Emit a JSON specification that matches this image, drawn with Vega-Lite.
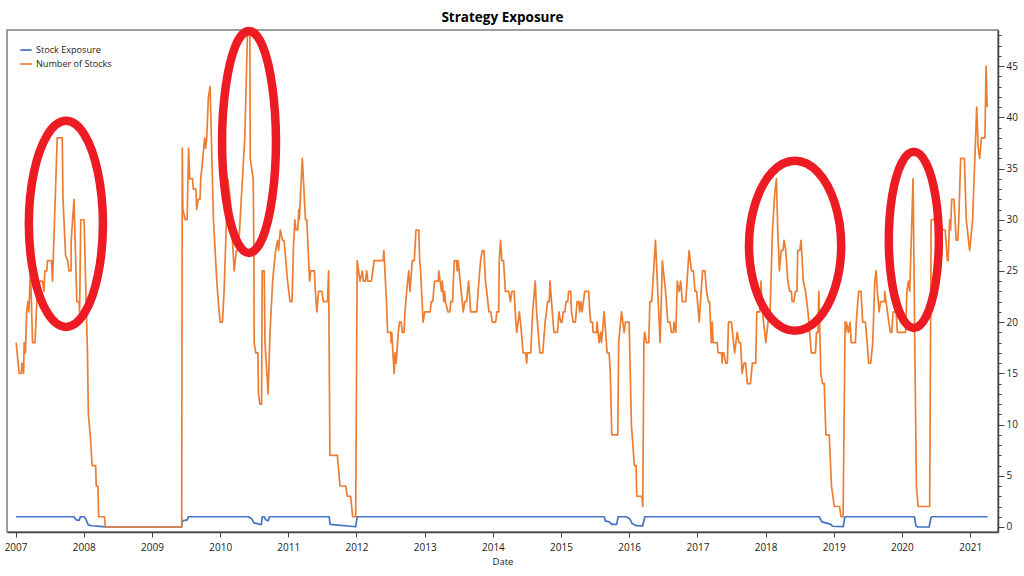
{
  "$schema": "https://vega.github.io/schema/vega-lite/v6.json",
  "width": 991,
  "height": 502,
  "autosize": "none",
  "padding": {"left": 7, "top": 30, "right": 26, "bottom": 44},
  "background": "white",
  "title": {"text": "Strategy Exposure", "fontSize": 13.5, "fontWeight": "bold", "font": "Open Sans", "color": "black", "offset": -11},
  "config": {
    "view": {"stroke": "#808080", "strokeWidth": 1.5},
    "font": "Open Sans"
  },
  "datasets": {
    "circles": [
      {"circle": 1, "step": 0, "date": "2008-04-13", "value": 29.6},
      {"circle": 1, "step": 1, "date": "2008-03-17", "value": 34.63},
      {"circle": 1, "step": 2, "date": "2008-01-05", "value": 38.31},
      {"circle": 1, "step": 3, "date": "2007-09-28", "value": 39.66},
      {"circle": 1, "step": 4, "date": "2007-06-21", "value": 38.31},
      {"circle": 1, "step": 5, "date": "2007-04-09", "value": 34.63},
      {"circle": 1, "step": 6, "date": "2007-03-13", "value": 29.6},
      {"circle": 1, "step": 7, "date": "2007-04-09", "value": 24.57},
      {"circle": 1, "step": 8, "date": "2007-06-21", "value": 20.89},
      {"circle": 1, "step": 9, "date": "2007-09-28", "value": 19.54},
      {"circle": 1, "step": 10, "date": "2008-01-05", "value": 20.89},
      {"circle": 1, "step": 11, "date": "2008-03-17", "value": 24.57},
      {"circle": 2, "step": 0, "date": "2010-10-27", "value": 37.6},
      {"circle": 2, "step": 1, "date": "2010-10-07", "value": 43.02},
      {"circle": 2, "step": 2, "date": "2010-08-16", "value": 46.99},
      {"circle": 2, "step": 3, "date": "2010-06-04", "value": 48.44},
      {"circle": 2, "step": 4, "date": "2010-03-24", "value": 46.99},
      {"circle": 2, "step": 5, "date": "2010-01-31", "value": 43.02},
      {"circle": 2, "step": 6, "date": "2010-01-11", "value": 37.6},
      {"circle": 2, "step": 7, "date": "2010-01-31", "value": 32.18},
      {"circle": 2, "step": 8, "date": "2010-03-24", "value": 28.21},
      {"circle": 2, "step": 9, "date": "2010-06-04", "value": 26.76},
      {"circle": 2, "step": 10, "date": "2010-08-16", "value": 28.21},
      {"circle": 2, "step": 11, "date": "2010-10-07", "value": 32.18},
      {"circle": 3, "step": 0, "date": "2019-02-10", "value": 27.46},
      {"circle": 3, "step": 1, "date": "2019-01-07", "value": 31.61},
      {"circle": 3, "step": 2, "date": "2018-10-08", "value": 34.65},
      {"circle": 3, "step": 3, "date": "2018-06-07", "value": 35.76},
      {"circle": 3, "step": 4, "date": "2018-02-05", "value": 34.65},
      {"circle": 3, "step": 5, "date": "2017-11-07", "value": 31.61},
      {"circle": 3, "step": 6, "date": "2017-10-04", "value": 27.46},
      {"circle": 3, "step": 7, "date": "2017-11-07", "value": 23.31},
      {"circle": 3, "step": 8, "date": "2018-02-05", "value": 20.27},
      {"circle": 3, "step": 9, "date": "2018-06-07", "value": 19.16},
      {"circle": 3, "step": 10, "date": "2018-10-08", "value": 20.27},
      {"circle": 3, "step": 11, "date": "2019-01-07", "value": 23.31},
      {"circle": 4, "step": 0, "date": "2020-07-17", "value": 28.03},
      {"circle": 4, "step": 1, "date": "2020-06-29", "value": 32.33},
      {"circle": 4, "step": 2, "date": "2020-05-11", "value": 35.48},
      {"circle": 4, "step": 3, "date": "2020-03-05", "value": 36.63},
      {"circle": 4, "step": 4, "date": "2019-12-29", "value": 35.48},
      {"circle": 4, "step": 5, "date": "2019-11-10", "value": 32.33},
      {"circle": 4, "step": 6, "date": "2019-10-23", "value": 28.03},
      {"circle": 4, "step": 7, "date": "2019-11-10", "value": 23.73},
      {"circle": 4, "step": 8, "date": "2019-12-29", "value": 20.58},
      {"circle": 4, "step": 9, "date": "2020-03-05", "value": 19.43},
      {"circle": 4, "step": 10, "date": "2020-05-11", "value": 20.58},
      {"circle": 4, "step": 11, "date": "2020-06-29", "value": 23.73}
    ],
    "series": [
      {"series": "Stock Exposure", "date": "2007-01-04", "value": 1},
      {"series": "Stock Exposure", "date": "2007-11-10", "value": 1},
      {"series": "Stock Exposure", "date": "2007-11-21", "value": 0.7},
      {"series": "Stock Exposure", "date": "2007-12-08", "value": 0.65},
      {"series": "Stock Exposure", "date": "2007-12-14", "value": 1},
      {"series": "Stock Exposure", "date": "2008-01-03", "value": 1},
      {"series": "Stock Exposure", "date": "2008-01-13", "value": 0.75},
      {"series": "Stock Exposure", "date": "2008-01-25", "value": 0.2},
      {"series": "Stock Exposure", "date": "2008-02-14", "value": 0.12},
      {"series": "Stock Exposure", "date": "2008-03-28", "value": 0.05},
      {"series": "Stock Exposure", "date": "2008-04-26", "value": 0},
      {"series": "Stock Exposure", "date": "2009-06-09", "value": 0},
      {"series": "Stock Exposure", "date": "2009-06-12", "value": 0.6},
      {"series": "Stock Exposure", "date": "2009-07-08", "value": 0.7},
      {"series": "Stock Exposure", "date": "2009-07-16", "value": 1},
      {"series": "Stock Exposure", "date": "2010-06-01", "value": 1},
      {"series": "Stock Exposure", "date": "2010-06-19", "value": 0.8},
      {"series": "Stock Exposure", "date": "2010-07-01", "value": 0.4},
      {"series": "Stock Exposure", "date": "2010-07-14", "value": 0.35},
      {"series": "Stock Exposure", "date": "2010-08-02", "value": 0.25},
      {"series": "Stock Exposure", "date": "2010-08-10", "value": 0.25},
      {"series": "Stock Exposure", "date": "2010-08-14", "value": 1},
      {"series": "Stock Exposure", "date": "2010-08-25", "value": 1},
      {"series": "Stock Exposure", "date": "2010-09-02", "value": 0.7},
      {"series": "Stock Exposure", "date": "2010-09-15", "value": 0.6},
      {"series": "Stock Exposure", "date": "2010-09-22", "value": 1},
      {"series": "Stock Exposure", "date": "2011-08-08", "value": 1},
      {"series": "Stock Exposure", "date": "2011-08-13", "value": 0.25},
      {"series": "Stock Exposure", "date": "2011-12-28", "value": 0.02},
      {"series": "Stock Exposure", "date": "2012-01-05", "value": 1},
      {"series": "Stock Exposure", "date": "2015-08-21", "value": 1},
      {"series": "Stock Exposure", "date": "2015-08-26", "value": 0.6},
      {"series": "Stock Exposure", "date": "2015-09-17", "value": 0.5},
      {"series": "Stock Exposure", "date": "2015-09-30", "value": 0.25},
      {"series": "Stock Exposure", "date": "2015-10-26", "value": 0.25},
      {"series": "Stock Exposure", "date": "2015-11-03", "value": 1},
      {"series": "Stock Exposure", "date": "2015-12-15", "value": 1},
      {"series": "Stock Exposure", "date": "2016-01-03", "value": 0.83},
      {"series": "Stock Exposure", "date": "2016-01-17", "value": 0.33},
      {"series": "Stock Exposure", "date": "2016-02-07", "value": 0.13},
      {"series": "Stock Exposure", "date": "2016-03-13", "value": 0.1},
      {"series": "Stock Exposure", "date": "2016-03-25", "value": 1},
      {"series": "Stock Exposure", "date": "2018-10-15", "value": 1},
      {"series": "Stock Exposure", "date": "2018-10-30", "value": 0.5},
      {"series": "Stock Exposure", "date": "2018-11-20", "value": 0.4},
      {"series": "Stock Exposure", "date": "2018-12-17", "value": 0.25},
      {"series": "Stock Exposure", "date": "2018-12-25", "value": 0.07},
      {"series": "Stock Exposure", "date": "2019-02-21", "value": 0.03},
      {"series": "Stock Exposure", "date": "2019-03-01", "value": 0.95},
      {"series": "Stock Exposure", "date": "2019-03-04", "value": 1},
      {"series": "Stock Exposure", "date": "2020-03-08", "value": 1},
      {"series": "Stock Exposure", "date": "2020-03-16", "value": 0.13},
      {"series": "Stock Exposure", "date": "2020-03-25", "value": 0},
      {"series": "Stock Exposure", "date": "2020-05-26", "value": 0},
      {"series": "Stock Exposure", "date": "2020-06-05", "value": 0.9},
      {"series": "Stock Exposure", "date": "2020-06-10", "value": 1},
      {"series": "Stock Exposure", "date": "2021-04-04", "value": 1},

      {"series": "Number of Stocks", "date": "2007-01-04", "value": 18},
      {"series": "Number of Stocks", "date": "2007-01-20", "value": 15},
      {"series": "Number of Stocks", "date": "2007-02-01", "value": 15},
      {"series": "Number of Stocks", "date": "2007-02-04", "value": 16},
      {"series": "Number of Stocks", "date": "2007-02-13", "value": 15},
      {"series": "Number of Stocks", "date": "2007-02-16", "value": 18},
      {"series": "Number of Stocks", "date": "2007-02-23", "value": 17},
      {"series": "Number of Stocks", "date": "2007-03-01", "value": 21},
      {"series": "Number of Stocks", "date": "2007-03-08", "value": 22},
      {"series": "Number of Stocks", "date": "2007-03-13", "value": 21},
      {"series": "Number of Stocks", "date": "2007-03-22", "value": 25},
      {"series": "Number of Stocks", "date": "2007-04-02", "value": 18},
      {"series": "Number of Stocks", "date": "2007-04-15", "value": 18},
      {"series": "Number of Stocks", "date": "2007-04-27", "value": 23},
      {"series": "Number of Stocks", "date": "2007-05-11", "value": 24},
      {"series": "Number of Stocks", "date": "2007-05-25", "value": 24},
      {"series": "Number of Stocks", "date": "2007-06-02", "value": 23},
      {"series": "Number of Stocks", "date": "2007-06-07", "value": 25},
      {"series": "Number of Stocks", "date": "2007-06-17", "value": 25},
      {"series": "Number of Stocks", "date": "2007-06-21", "value": 26},
      {"series": "Number of Stocks", "date": "2007-07-12", "value": 26},
      {"series": "Number of Stocks", "date": "2007-07-18", "value": 24},
      {"series": "Number of Stocks", "date": "2007-08-12", "value": 38},
      {"series": "Number of Stocks", "date": "2007-09-08", "value": 38},
      {"series": "Number of Stocks", "date": "2007-09-12", "value": 32},
      {"series": "Number of Stocks", "date": "2007-09-26", "value": 26.5},
      {"series": "Number of Stocks", "date": "2007-10-07", "value": 26},
      {"series": "Number of Stocks", "date": "2007-10-14", "value": 25},
      {"series": "Number of Stocks", "date": "2007-10-25", "value": 25},
      {"series": "Number of Stocks", "date": "2007-10-26", "value": 28},
      {"series": "Number of Stocks", "date": "2007-11-10", "value": 32},
      {"series": "Number of Stocks", "date": "2007-11-25", "value": 22},
      {"series": "Number of Stocks", "date": "2007-12-07", "value": 22},
      {"series": "Number of Stocks", "date": "2007-12-10", "value": 21},
      {"series": "Number of Stocks", "date": "2007-12-16", "value": 30},
      {"series": "Number of Stocks", "date": "2008-01-03", "value": 30},
      {"series": "Number of Stocks", "date": "2008-01-14", "value": 22},
      {"series": "Number of Stocks", "date": "2008-01-21", "value": 17},
      {"series": "Number of Stocks", "date": "2008-01-26", "value": 11},
      {"series": "Number of Stocks", "date": "2008-02-05", "value": 9},
      {"series": "Number of Stocks", "date": "2008-02-15", "value": 6},
      {"series": "Number of Stocks", "date": "2008-03-05", "value": 6},
      {"series": "Number of Stocks", "date": "2008-03-08", "value": 4},
      {"series": "Number of Stocks", "date": "2008-03-17", "value": 4},
      {"series": "Number of Stocks", "date": "2008-03-21", "value": 1},
      {"series": "Number of Stocks", "date": "2008-04-21", "value": 1},
      {"series": "Number of Stocks", "date": "2008-04-26", "value": 0},
      {"series": "Number of Stocks", "date": "2009-06-09", "value": 0},
      {"series": "Number of Stocks", "date": "2009-06-12", "value": 37},
      {"series": "Number of Stocks", "date": "2009-06-15", "value": 31},
      {"series": "Number of Stocks", "date": "2009-06-28", "value": 30},
      {"series": "Number of Stocks", "date": "2009-07-08", "value": 30},
      {"series": "Number of Stocks", "date": "2009-07-16", "value": 37},
      {"series": "Number of Stocks", "date": "2009-07-22", "value": 34},
      {"series": "Number of Stocks", "date": "2009-08-06", "value": 34},
      {"series": "Number of Stocks", "date": "2009-08-10", "value": 33},
      {"series": "Number of Stocks", "date": "2009-08-24", "value": 33},
      {"series": "Number of Stocks", "date": "2009-08-28", "value": 31},
      {"series": "Number of Stocks", "date": "2009-09-05", "value": 32},
      {"series": "Number of Stocks", "date": "2009-09-15", "value": 32},
      {"series": "Number of Stocks", "date": "2009-09-19", "value": 34},
      {"series": "Number of Stocks", "date": "2009-09-30", "value": 36},
      {"series": "Number of Stocks", "date": "2009-10-10", "value": 38},
      {"series": "Number of Stocks", "date": "2009-10-15", "value": 37},
      {"series": "Number of Stocks", "date": "2009-10-21", "value": 38},
      {"series": "Number of Stocks", "date": "2009-10-30", "value": 42},
      {"series": "Number of Stocks", "date": "2009-11-08", "value": 43},
      {"series": "Number of Stocks", "date": "2009-11-26", "value": 30},
      {"series": "Number of Stocks", "date": "2009-12-14", "value": 24},
      {"series": "Number of Stocks", "date": "2009-12-22", "value": 22},
      {"series": "Number of Stocks", "date": "2010-01-01", "value": 20},
      {"series": "Number of Stocks", "date": "2010-01-13", "value": 20},
      {"series": "Number of Stocks", "date": "2010-01-22", "value": 23},
      {"series": "Number of Stocks", "date": "2010-02-11", "value": 34},
      {"series": "Number of Stocks", "date": "2010-02-24", "value": 32},
      {"series": "Number of Stocks", "date": "2010-03-17", "value": 25},
      {"series": "Number of Stocks", "date": "2010-03-29", "value": 27},
      {"series": "Number of Stocks", "date": "2010-04-09", "value": 27},
      {"series": "Number of Stocks", "date": "2010-04-24", "value": 32},
      {"series": "Number of Stocks", "date": "2010-05-13", "value": 38},
      {"series": "Number of Stocks", "date": "2010-05-27", "value": 48},
      {"series": "Number of Stocks", "date": "2010-06-09", "value": 48},
      {"series": "Number of Stocks", "date": "2010-06-11", "value": 36},
      {"series": "Number of Stocks", "date": "2010-06-27", "value": 34},
      {"series": "Number of Stocks", "date": "2010-07-01", "value": 26},
      {"series": "Number of Stocks", "date": "2010-07-02", "value": 18},
      {"series": "Number of Stocks", "date": "2010-07-11", "value": 17},
      {"series": "Number of Stocks", "date": "2010-07-22", "value": 17},
      {"series": "Number of Stocks", "date": "2010-07-25", "value": 13},
      {"series": "Number of Stocks", "date": "2010-08-02", "value": 12},
      {"series": "Number of Stocks", "date": "2010-08-11", "value": 12},
      {"series": "Number of Stocks", "date": "2010-08-14", "value": 25},
      {"series": "Number of Stocks", "date": "2010-08-25", "value": 25},
      {"series": "Number of Stocks", "date": "2010-08-29", "value": 18},
      {"series": "Number of Stocks", "date": "2010-09-15", "value": 13},
      {"series": "Number of Stocks", "date": "2010-09-25", "value": 19},
      {"series": "Number of Stocks", "date": "2010-10-09", "value": 24},
      {"series": "Number of Stocks", "date": "2010-10-25", "value": 27},
      {"series": "Number of Stocks", "date": "2010-11-05", "value": 28},
      {"series": "Number of Stocks", "date": "2010-11-10", "value": 27},
      {"series": "Number of Stocks", "date": "2010-11-19", "value": 29},
      {"series": "Number of Stocks", "date": "2010-12-01", "value": 28},
      {"series": "Number of Stocks", "date": "2010-12-09", "value": 28},
      {"series": "Number of Stocks", "date": "2010-12-19", "value": 26},
      {"series": "Number of Stocks", "date": "2010-12-28", "value": 24},
      {"series": "Number of Stocks", "date": "2011-01-10", "value": 22},
      {"series": "Number of Stocks", "date": "2011-01-21", "value": 22},
      {"series": "Number of Stocks", "date": "2011-01-28", "value": 27},
      {"series": "Number of Stocks", "date": "2011-02-05", "value": 30},
      {"series": "Number of Stocks", "date": "2011-02-12", "value": 29},
      {"series": "Number of Stocks", "date": "2011-02-21", "value": 29},
      {"series": "Number of Stocks", "date": "2011-02-26", "value": 31},
      {"series": "Number of Stocks", "date": "2011-03-01", "value": 30},
      {"series": "Number of Stocks", "date": "2011-03-17", "value": 36},
      {"series": "Number of Stocks", "date": "2011-04-03", "value": 30},
      {"series": "Number of Stocks", "date": "2011-04-10", "value": 30},
      {"series": "Number of Stocks", "date": "2011-04-25", "value": 24},
      {"series": "Number of Stocks", "date": "2011-05-01", "value": 25},
      {"series": "Number of Stocks", "date": "2011-05-21", "value": 25},
      {"series": "Number of Stocks", "date": "2011-05-26", "value": 23},
      {"series": "Number of Stocks", "date": "2011-06-03", "value": 21},
      {"series": "Number of Stocks", "date": "2011-06-12", "value": 23},
      {"series": "Number of Stocks", "date": "2011-06-30", "value": 23},
      {"series": "Number of Stocks", "date": "2011-07-08", "value": 22},
      {"series": "Number of Stocks", "date": "2011-07-30", "value": 22},
      {"series": "Number of Stocks", "date": "2011-08-05", "value": 25},
      {"series": "Number of Stocks", "date": "2011-08-12", "value": 7},
      {"series": "Number of Stocks", "date": "2011-09-21", "value": 7},
      {"series": "Number of Stocks", "date": "2011-10-05", "value": 4},
      {"series": "Number of Stocks", "date": "2011-11-05", "value": 4},
      {"series": "Number of Stocks", "date": "2011-11-13", "value": 3},
      {"series": "Number of Stocks", "date": "2011-12-01", "value": 3},
      {"series": "Number of Stocks", "date": "2011-12-12", "value": 1},
      {"series": "Number of Stocks", "date": "2011-12-28", "value": 1},
      {"series": "Number of Stocks", "date": "2012-01-05", "value": 26},
      {"series": "Number of Stocks", "date": "2012-01-20", "value": 24},
      {"series": "Number of Stocks", "date": "2012-02-02", "value": 25},
      {"series": "Number of Stocks", "date": "2012-02-07", "value": 24},
      {"series": "Number of Stocks", "date": "2012-02-18", "value": 24},
      {"series": "Number of Stocks", "date": "2012-02-25", "value": 25},
      {"series": "Number of Stocks", "date": "2012-03-02", "value": 24},
      {"series": "Number of Stocks", "date": "2012-03-21", "value": 24},
      {"series": "Number of Stocks", "date": "2012-04-05", "value": 26},
      {"series": "Number of Stocks", "date": "2012-05-23", "value": 26},
      {"series": "Number of Stocks", "date": "2012-05-27", "value": 27},
      {"series": "Number of Stocks", "date": "2012-06-10", "value": 22},
      {"series": "Number of Stocks", "date": "2012-06-16", "value": 19},
      {"series": "Number of Stocks", "date": "2012-07-03", "value": 19},
      {"series": "Number of Stocks", "date": "2012-07-05", "value": 18},
      {"series": "Number of Stocks", "date": "2012-07-08", "value": 19},
      {"series": "Number of Stocks", "date": "2012-07-21", "value": 15},
      {"series": "Number of Stocks", "date": "2012-07-26", "value": 17},
      {"series": "Number of Stocks", "date": "2012-08-01", "value": 16},
      {"series": "Number of Stocks", "date": "2012-08-12", "value": 19},
      {"series": "Number of Stocks", "date": "2012-08-19", "value": 20},
      {"series": "Number of Stocks", "date": "2012-08-28", "value": 20},
      {"series": "Number of Stocks", "date": "2012-09-03", "value": 19},
      {"series": "Number of Stocks", "date": "2012-09-12", "value": 19},
      {"series": "Number of Stocks", "date": "2012-09-17", "value": 21},
      {"series": "Number of Stocks", "date": "2012-09-26", "value": 23},
      {"series": "Number of Stocks", "date": "2012-10-07", "value": 25},
      {"series": "Number of Stocks", "date": "2012-10-14", "value": 23},
      {"series": "Number of Stocks", "date": "2012-10-26", "value": 26},
      {"series": "Number of Stocks", "date": "2012-11-06", "value": 26},
      {"series": "Number of Stocks", "date": "2012-11-15", "value": 29},
      {"series": "Number of Stocks", "date": "2012-11-30", "value": 29},
      {"series": "Number of Stocks", "date": "2012-12-05", "value": 26},
      {"series": "Number of Stocks", "date": "2012-12-10", "value": 25},
      {"series": "Number of Stocks", "date": "2012-12-23", "value": 20},
      {"series": "Number of Stocks", "date": "2013-01-01", "value": 21},
      {"series": "Number of Stocks", "date": "2013-01-30", "value": 21},
      {"series": "Number of Stocks", "date": "2013-02-05", "value": 22},
      {"series": "Number of Stocks", "date": "2013-02-13", "value": 22},
      {"series": "Number of Stocks", "date": "2013-02-22", "value": 24},
      {"series": "Number of Stocks", "date": "2013-03-15", "value": 24},
      {"series": "Number of Stocks", "date": "2013-03-17", "value": 25},
      {"series": "Number of Stocks", "date": "2013-04-01", "value": 23},
      {"series": "Number of Stocks", "date": "2013-04-05", "value": 24},
      {"series": "Number of Stocks", "date": "2013-04-13", "value": 22},
      {"series": "Number of Stocks", "date": "2013-04-17", "value": 23},
      {"series": "Number of Stocks", "date": "2013-04-22", "value": 22},
      {"series": "Number of Stocks", "date": "2013-05-05", "value": 21},
      {"series": "Number of Stocks", "date": "2013-05-15", "value": 21},
      {"series": "Number of Stocks", "date": "2013-05-21", "value": 22},
      {"series": "Number of Stocks", "date": "2013-05-30", "value": 22},
      {"series": "Number of Stocks", "date": "2013-06-08", "value": 26},
      {"series": "Number of Stocks", "date": "2013-06-20", "value": 26},
      {"series": "Number of Stocks", "date": "2013-06-24", "value": 25},
      {"series": "Number of Stocks", "date": "2013-06-29", "value": 26},
      {"series": "Number of Stocks", "date": "2013-07-15", "value": 23},
      {"series": "Number of Stocks", "date": "2013-07-26", "value": 21},
      {"series": "Number of Stocks", "date": "2013-08-03", "value": 22},
      {"series": "Number of Stocks", "date": "2013-08-13", "value": 22},
      {"series": "Number of Stocks", "date": "2013-08-24", "value": 24},
      {"series": "Number of Stocks", "date": "2013-09-04", "value": 21},
      {"series": "Number of Stocks", "date": "2013-10-06", "value": 21},
      {"series": "Number of Stocks", "date": "2013-10-18", "value": 24},
      {"series": "Number of Stocks", "date": "2013-10-27", "value": 26},
      {"series": "Number of Stocks", "date": "2013-11-05", "value": 27},
      {"series": "Number of Stocks", "date": "2013-11-14", "value": 27},
      {"series": "Number of Stocks", "date": "2013-11-22", "value": 24},
      {"series": "Number of Stocks", "date": "2013-11-29", "value": 23},
      {"series": "Number of Stocks", "date": "2013-12-11", "value": 21},
      {"series": "Number of Stocks", "date": "2013-12-20", "value": 21},
      {"series": "Number of Stocks", "date": "2013-12-29", "value": 20},
      {"series": "Number of Stocks", "date": "2014-01-16", "value": 20},
      {"series": "Number of Stocks", "date": "2014-01-22", "value": 21},
      {"series": "Number of Stocks", "date": "2014-02-01", "value": 21},
      {"series": "Number of Stocks", "date": "2014-02-04", "value": 26},
      {"series": "Number of Stocks", "date": "2014-02-11", "value": 28},
      {"series": "Number of Stocks", "date": "2014-02-18", "value": 26},
      {"series": "Number of Stocks", "date": "2014-02-27", "value": 26},
      {"series": "Number of Stocks", "date": "2014-03-09", "value": 23},
      {"series": "Number of Stocks", "date": "2014-03-27", "value": 23},
      {"series": "Number of Stocks", "date": "2014-04-05", "value": 22},
      {"series": "Number of Stocks", "date": "2014-04-13", "value": 23},
      {"series": "Number of Stocks", "date": "2014-04-25", "value": 23},
      {"series": "Number of Stocks", "date": "2014-05-04", "value": 20},
      {"series": "Number of Stocks", "date": "2014-05-09", "value": 19},
      {"series": "Number of Stocks", "date": "2014-05-23", "value": 21},
      {"series": "Number of Stocks", "date": "2014-06-03", "value": 19},
      {"series": "Number of Stocks", "date": "2014-06-12", "value": 17},
      {"series": "Number of Stocks", "date": "2014-06-26", "value": 17},
      {"series": "Number of Stocks", "date": "2014-07-01", "value": 16},
      {"series": "Number of Stocks", "date": "2014-07-05", "value": 17},
      {"series": "Number of Stocks", "date": "2014-07-23", "value": 17},
      {"series": "Number of Stocks", "date": "2014-08-02", "value": 21},
      {"series": "Number of Stocks", "date": "2014-08-16", "value": 24},
      {"series": "Number of Stocks", "date": "2014-08-23", "value": 21},
      {"series": "Number of Stocks", "date": "2014-09-10", "value": 17},
      {"series": "Number of Stocks", "date": "2014-09-25", "value": 17},
      {"series": "Number of Stocks", "date": "2014-10-08", "value": 20},
      {"series": "Number of Stocks", "date": "2014-10-15", "value": 21},
      {"series": "Number of Stocks", "date": "2014-10-21", "value": 22},
      {"series": "Number of Stocks", "date": "2014-10-30", "value": 22},
      {"series": "Number of Stocks", "date": "2014-11-03", "value": 24},
      {"series": "Number of Stocks", "date": "2014-11-11", "value": 22},
      {"series": "Number of Stocks", "date": "2014-11-24", "value": 19},
      {"series": "Number of Stocks", "date": "2014-12-13", "value": 19},
      {"series": "Number of Stocks", "date": "2014-12-21", "value": 21},
      {"series": "Number of Stocks", "date": "2014-12-30", "value": 20},
      {"series": "Number of Stocks", "date": "2015-01-06", "value": 20},
      {"series": "Number of Stocks", "date": "2015-01-13", "value": 21},
      {"series": "Number of Stocks", "date": "2015-01-22", "value": 21},
      {"series": "Number of Stocks", "date": "2015-01-28", "value": 22},
      {"series": "Number of Stocks", "date": "2015-02-06", "value": 22},
      {"series": "Number of Stocks", "date": "2015-02-11", "value": 23},
      {"series": "Number of Stocks", "date": "2015-02-22", "value": 23},
      {"series": "Number of Stocks", "date": "2015-02-26", "value": 21},
      {"series": "Number of Stocks", "date": "2015-03-07", "value": 20},
      {"series": "Number of Stocks", "date": "2015-03-19", "value": 20},
      {"series": "Number of Stocks", "date": "2015-03-28", "value": 22},
      {"series": "Number of Stocks", "date": "2015-04-06", "value": 22},
      {"series": "Number of Stocks", "date": "2015-04-11", "value": 21},
      {"series": "Number of Stocks", "date": "2015-04-17", "value": 22},
      {"series": "Number of Stocks", "date": "2015-04-24", "value": 21},
      {"series": "Number of Stocks", "date": "2015-05-08", "value": 23},
      {"series": "Number of Stocks", "date": "2015-05-29", "value": 23},
      {"series": "Number of Stocks", "date": "2015-06-04", "value": 21},
      {"series": "Number of Stocks", "date": "2015-06-09", "value": 20},
      {"series": "Number of Stocks", "date": "2015-06-19", "value": 20},
      {"series": "Number of Stocks", "date": "2015-06-22", "value": 19},
      {"series": "Number of Stocks", "date": "2015-07-10", "value": 19},
      {"series": "Number of Stocks", "date": "2015-07-13", "value": 20},
      {"series": "Number of Stocks", "date": "2015-07-24", "value": 18},
      {"series": "Number of Stocks", "date": "2015-08-01", "value": 19},
      {"series": "Number of Stocks", "date": "2015-08-06", "value": 18},
      {"series": "Number of Stocks", "date": "2015-08-20", "value": 21},
      {"series": "Number of Stocks", "date": "2015-09-05", "value": 17},
      {"series": "Number of Stocks", "date": "2015-09-16", "value": 17},
      {"series": "Number of Stocks", "date": "2015-09-22", "value": 15},
      {"series": "Number of Stocks", "date": "2015-09-30", "value": 9},
      {"series": "Number of Stocks", "date": "2015-11-01", "value": 9},
      {"series": "Number of Stocks", "date": "2015-11-06", "value": 18},
      {"series": "Number of Stocks", "date": "2015-11-21", "value": 21},
      {"series": "Number of Stocks", "date": "2015-12-05", "value": 19},
      {"series": "Number of Stocks", "date": "2015-12-12", "value": 20},
      {"series": "Number of Stocks", "date": "2016-01-01", "value": 20},
      {"series": "Number of Stocks", "date": "2016-01-13", "value": 10},
      {"series": "Number of Stocks", "date": "2016-01-29", "value": 6},
      {"series": "Number of Stocks", "date": "2016-02-07", "value": 6},
      {"series": "Number of Stocks", "date": "2016-02-11", "value": 3},
      {"series": "Number of Stocks", "date": "2016-03-09", "value": 3},
      {"series": "Number of Stocks", "date": "2016-03-14", "value": 2},
      {"series": "Number of Stocks", "date": "2016-03-20", "value": 18},
      {"series": "Number of Stocks", "date": "2016-03-24", "value": 19},
      {"series": "Number of Stocks", "date": "2016-04-03", "value": 18},
      {"series": "Number of Stocks", "date": "2016-04-15", "value": 18},
      {"series": "Number of Stocks", "date": "2016-04-21", "value": 22},
      {"series": "Number of Stocks", "date": "2016-05-01", "value": 22},
      {"series": "Number of Stocks", "date": "2016-05-21", "value": 28},
      {"series": "Number of Stocks", "date": "2016-06-01", "value": 23.5},
      {"series": "Number of Stocks", "date": "2016-06-15", "value": 18},
      {"series": "Number of Stocks", "date": "2016-06-27", "value": 26},
      {"series": "Number of Stocks", "date": "2016-07-14", "value": 23},
      {"series": "Number of Stocks", "date": "2016-07-26", "value": 20},
      {"series": "Number of Stocks", "date": "2016-08-07", "value": 20},
      {"series": "Number of Stocks", "date": "2016-08-14", "value": 19},
      {"series": "Number of Stocks", "date": "2016-08-25", "value": 19},
      {"series": "Number of Stocks", "date": "2016-08-28", "value": 20},
      {"series": "Number of Stocks", "date": "2016-09-07", "value": 19},
      {"series": "Number of Stocks", "date": "2016-09-15", "value": 24},
      {"series": "Number of Stocks", "date": "2016-09-25", "value": 23},
      {"series": "Number of Stocks", "date": "2016-10-03", "value": 24},
      {"series": "Number of Stocks", "date": "2016-10-12", "value": 22},
      {"series": "Number of Stocks", "date": "2016-10-30", "value": 22},
      {"series": "Number of Stocks", "date": "2016-11-17", "value": 27},
      {"series": "Number of Stocks", "date": "2016-11-30", "value": 25},
      {"series": "Number of Stocks", "date": "2016-12-10", "value": 25},
      {"series": "Number of Stocks", "date": "2016-12-19", "value": 23},
      {"series": "Number of Stocks", "date": "2016-12-28", "value": 23},
      {"series": "Number of Stocks", "date": "2017-01-10", "value": 20},
      {"series": "Number of Stocks", "date": "2017-01-28", "value": 25},
      {"series": "Number of Stocks", "date": "2017-02-10", "value": 25},
      {"series": "Number of Stocks", "date": "2017-02-19", "value": 23},
      {"series": "Number of Stocks", "date": "2017-02-28", "value": 22},
      {"series": "Number of Stocks", "date": "2017-03-07", "value": 22},
      {"series": "Number of Stocks", "date": "2017-03-16", "value": 18},
      {"series": "Number of Stocks", "date": "2017-03-21", "value": 20},
      {"series": "Number of Stocks", "date": "2017-03-26", "value": 18},
      {"series": "Number of Stocks", "date": "2017-04-16", "value": 18},
      {"series": "Number of Stocks", "date": "2017-04-22", "value": 17},
      {"series": "Number of Stocks", "date": "2017-05-10", "value": 17},
      {"series": "Number of Stocks", "date": "2017-05-13", "value": 16},
      {"series": "Number of Stocks", "date": "2017-05-16", "value": 17},
      {"series": "Number of Stocks", "date": "2017-05-22", "value": 17},
      {"series": "Number of Stocks", "date": "2017-06-01", "value": 16},
      {"series": "Number of Stocks", "date": "2017-06-10", "value": 16},
      {"series": "Number of Stocks", "date": "2017-06-16", "value": 20},
      {"series": "Number of Stocks", "date": "2017-07-02", "value": 20},
      {"series": "Number of Stocks", "date": "2017-07-19", "value": 17},
      {"series": "Number of Stocks", "date": "2017-08-02", "value": 19},
      {"series": "Number of Stocks", "date": "2017-08-11", "value": 18},
      {"series": "Number of Stocks", "date": "2017-08-20", "value": 18},
      {"series": "Number of Stocks", "date": "2017-08-28", "value": 15},
      {"series": "Number of Stocks", "date": "2017-09-07", "value": 16},
      {"series": "Number of Stocks", "date": "2017-09-16", "value": 16},
      {"series": "Number of Stocks", "date": "2017-09-25", "value": 14},
      {"series": "Number of Stocks", "date": "2017-10-12", "value": 14},
      {"series": "Number of Stocks", "date": "2017-10-22", "value": 16},
      {"series": "Number of Stocks", "date": "2017-11-09", "value": 16},
      {"series": "Number of Stocks", "date": "2017-11-15", "value": 21},
      {"series": "Number of Stocks", "date": "2017-12-01", "value": 21},
      {"series": "Number of Stocks", "date": "2017-12-07", "value": 24},
      {"series": "Number of Stocks", "date": "2017-12-15", "value": 21},
      {"series": "Number of Stocks", "date": "2018-01-02", "value": 18},
      {"series": "Number of Stocks", "date": "2018-01-14", "value": 20},
      {"series": "Number of Stocks", "date": "2018-01-25", "value": 21},
      {"series": "Number of Stocks", "date": "2018-02-07", "value": 29},
      {"series": "Number of Stocks", "date": "2018-02-19", "value": 32.6},
      {"series": "Number of Stocks", "date": "2018-02-28", "value": 34},
      {"series": "Number of Stocks", "date": "2018-03-07", "value": 29},
      {"series": "Number of Stocks", "date": "2018-03-16", "value": 25},
      {"series": "Number of Stocks", "date": "2018-03-25", "value": 27},
      {"series": "Number of Stocks", "date": "2018-04-04", "value": 27},
      {"series": "Number of Stocks", "date": "2018-04-10", "value": 28},
      {"series": "Number of Stocks", "date": "2018-04-19", "value": 27},
      {"series": "Number of Stocks", "date": "2018-04-30", "value": 24},
      {"series": "Number of Stocks", "date": "2018-05-10", "value": 23},
      {"series": "Number of Stocks", "date": "2018-05-19", "value": 23},
      {"series": "Number of Stocks", "date": "2018-05-23", "value": 22},
      {"series": "Number of Stocks", "date": "2018-06-01", "value": 22},
      {"series": "Number of Stocks", "date": "2018-06-10", "value": 23},
      {"series": "Number of Stocks", "date": "2018-06-18", "value": 23},
      {"series": "Number of Stocks", "date": "2018-06-22", "value": 27},
      {"series": "Number of Stocks", "date": "2018-07-03", "value": 27},
      {"series": "Number of Stocks", "date": "2018-07-10", "value": 28},
      {"series": "Number of Stocks", "date": "2018-07-22", "value": 24},
      {"series": "Number of Stocks", "date": "2018-08-03", "value": 23},
      {"series": "Number of Stocks", "date": "2018-08-16", "value": 21},
      {"series": "Number of Stocks", "date": "2018-08-25", "value": 19},
      {"series": "Number of Stocks", "date": "2018-09-03", "value": 17},
      {"series": "Number of Stocks", "date": "2018-09-25", "value": 17},
      {"series": "Number of Stocks", "date": "2018-10-01", "value": 19},
      {"series": "Number of Stocks", "date": "2018-10-09", "value": 19},
      {"series": "Number of Stocks", "date": "2018-10-13", "value": 23},
      {"series": "Number of Stocks", "date": "2018-10-24", "value": 15},
      {"series": "Number of Stocks", "date": "2018-11-02", "value": 14},
      {"series": "Number of Stocks", "date": "2018-11-11", "value": 14},
      {"series": "Number of Stocks", "date": "2018-11-20", "value": 9},
      {"series": "Number of Stocks", "date": "2018-12-08", "value": 9},
      {"series": "Number of Stocks", "date": "2018-12-20", "value": 4},
      {"series": "Number of Stocks", "date": "2019-01-04", "value": 2},
      {"series": "Number of Stocks", "date": "2019-02-01", "value": 2},
      {"series": "Number of Stocks", "date": "2019-02-09", "value": 1},
      {"series": "Number of Stocks", "date": "2019-02-20", "value": 1},
      {"series": "Number of Stocks", "date": "2019-03-03", "value": 20},
      {"series": "Number of Stocks", "date": "2019-03-07", "value": 19},
      {"series": "Number of Stocks", "date": "2019-03-10", "value": 20},
      {"series": "Number of Stocks", "date": "2019-03-21", "value": 19},
      {"series": "Number of Stocks", "date": "2019-03-29", "value": 20},
      {"series": "Number of Stocks", "date": "2019-04-05", "value": 18},
      {"series": "Number of Stocks", "date": "2019-04-27", "value": 18},
      {"series": "Number of Stocks", "date": "2019-05-02", "value": 20},
      {"series": "Number of Stocks", "date": "2019-05-14", "value": 23},
      {"series": "Number of Stocks", "date": "2019-05-27", "value": 23},
      {"series": "Number of Stocks", "date": "2019-06-05", "value": 20},
      {"series": "Number of Stocks", "date": "2019-06-20", "value": 20},
      {"series": "Number of Stocks", "date": "2019-06-29", "value": 18},
      {"series": "Number of Stocks", "date": "2019-07-07", "value": 16},
      {"series": "Number of Stocks", "date": "2019-07-18", "value": 16},
      {"series": "Number of Stocks", "date": "2019-07-29", "value": 18},
      {"series": "Number of Stocks", "date": "2019-08-09", "value": 24},
      {"series": "Number of Stocks", "date": "2019-08-16", "value": 25},
      {"series": "Number of Stocks", "date": "2019-08-23", "value": 23},
      {"series": "Number of Stocks", "date": "2019-09-01", "value": 21},
      {"series": "Number of Stocks", "date": "2019-09-09", "value": 22},
      {"series": "Number of Stocks", "date": "2019-09-30", "value": 22},
      {"series": "Number of Stocks", "date": "2019-10-01", "value": 23},
      {"series": "Number of Stocks", "date": "2019-10-23", "value": 20},
      {"series": "Number of Stocks", "date": "2019-11-01", "value": 19},
      {"series": "Number of Stocks", "date": "2019-11-08", "value": 19},
      {"series": "Number of Stocks", "date": "2019-11-15", "value": 21},
      {"series": "Number of Stocks", "date": "2019-12-01", "value": 21},
      {"series": "Number of Stocks", "date": "2019-12-08", "value": 19},
      {"series": "Number of Stocks", "date": "2020-01-21", "value": 19},
      {"series": "Number of Stocks", "date": "2020-01-28", "value": 23},
      {"series": "Number of Stocks", "date": "2020-02-05", "value": 24},
      {"series": "Number of Stocks", "date": "2020-02-12", "value": 23},
      {"series": "Number of Stocks", "date": "2020-02-22", "value": 29},
      {"series": "Number of Stocks", "date": "2020-03-01", "value": 34},
      {"series": "Number of Stocks", "date": "2020-03-12", "value": 15},
      {"series": "Number of Stocks", "date": "2020-03-19", "value": 4},
      {"series": "Number of Stocks", "date": "2020-03-28", "value": 2},
      {"series": "Number of Stocks", "date": "2020-05-29", "value": 2},
      {"series": "Number of Stocks", "date": "2020-06-06", "value": 30},
      {"series": "Number of Stocks", "date": "2020-06-20", "value": 30},
      {"series": "Number of Stocks", "date": "2020-07-07", "value": 31},
      {"series": "Number of Stocks", "date": "2020-07-25", "value": 30},
      {"series": "Number of Stocks", "date": "2020-08-07", "value": 29},
      {"series": "Number of Stocks", "date": "2020-08-20", "value": 29},
      {"series": "Number of Stocks", "date": "2020-09-01", "value": 26},
      {"series": "Number of Stocks", "date": "2020-09-05", "value": 26},
      {"series": "Number of Stocks", "date": "2020-09-13", "value": 30},
      {"series": "Number of Stocks", "date": "2020-09-18", "value": 29},
      {"series": "Number of Stocks", "date": "2020-09-24", "value": 32},
      {"series": "Number of Stocks", "date": "2020-10-06", "value": 32},
      {"series": "Number of Stocks", "date": "2020-10-18", "value": 28},
      {"series": "Number of Stocks", "date": "2020-10-27", "value": 28},
      {"series": "Number of Stocks", "date": "2020-11-01", "value": 30},
      {"series": "Number of Stocks", "date": "2020-11-11", "value": 36},
      {"series": "Number of Stocks", "date": "2020-12-01", "value": 36},
      {"series": "Number of Stocks", "date": "2020-12-11", "value": 30},
      {"series": "Number of Stocks", "date": "2020-12-29", "value": 27},
      {"series": "Number of Stocks", "date": "2021-01-14", "value": 30},
      {"series": "Number of Stocks", "date": "2021-02-05", "value": 41},
      {"series": "Number of Stocks", "date": "2021-02-13", "value": 37},
      {"series": "Number of Stocks", "date": "2021-02-21", "value": 36},
      {"series": "Number of Stocks", "date": "2021-03-02", "value": 38},
      {"series": "Number of Stocks", "date": "2021-03-21", "value": 38},
      {"series": "Number of Stocks", "date": "2021-03-27", "value": 45},
      {"series": "Number of Stocks", "date": "2021-04-02", "value": 41}
    ]
  },
  "encoding": {
    "x": {
      "field": "date",
      "type": "temporal",
      "title": "Date",
      "scale": {"type": "utc", "domain": ["2006-11-16", "2021-05-30"]},
      "axis": {
        "format": "%Y",
        "tickCount": {"interval": "year", "step": 1},
        "grid": false,
        "labelFontSize": 10,
        "labelColor": "#222222",
        "labelFlush": false,
        "labelPadding": 5,
        "titleFontSize": 9.5,
        "titleFontWeight": "normal",
        "titleColor": "#222222",
        "titlePadding": 4,
        "domainColor": "#444444",
        "domainWidth": 1.5,
        "tickColor": "#444444",
        "tickSize": 5
      }
    },
    "y": {
      "field": "value",
      "type": "quantitative",
      "title": null,
      "scale": {"domain": [-0.49, 48.53], "nice": false, "zero": false},
      "axis": {
        "orient": "right",
        "grid": false,
        "values": [0,1,2,3,4,5,6,7,8,9,10,11,12,13,14,15,16,17,18,19,20,21,22,23,24,25,26,27,28,29,30,31,32,33,34,35,36,37,38,39,40,41,42,43,44,45,46,47,48],
        "labelExpr": "datum.value % 5 === 0 ? datum.label : ''",
        "labelOverlap": false,
        "labelFontSize": 10,
        "labelColor": "#222222",
        "labelPadding": 2,
        "domainColor": "#444444",
        "domainWidth": 1.5,
        "tickColor": "#444444",
        "tickSize": {"condition": {"test": "datum.value % 5 === 0", "value": 6}, "value": 3}
      }
    }
  },
  "layer": [
    {
      "data": {"name": "series"},
      "mark": {"type": "line", "strokeWidth": 1.7, "strokeJoin": "round"},
      "encoding": {
        "color": {
          "field": "series",
          "type": "nominal",
          "scale": {"domain": ["Stock Exposure", "Number of Stocks"], "range": ["#4472C4", "#ED7D31"]},
          "legend": {
            "title": null,
            "orient": "none",
            "legendX": 12,
            "legendY": 13,
            "symbolType": "stroke",
            "symbolSize": 130,
            "symbolStrokeWidth": 1.7,
            "labelFontSize": 9.1,
            "labelColor": "#222222",
            "labelOffset": 3,
            "rowPadding": 1
          }
        }
      }
    },
    {
      "data": {"name": "circles"},
      "mark": {"type": "line", "interpolate": "cardinal-closed", "color": "#ED1C24", "strokeWidth": 8.5, "clip": false},
      "encoding": {
        "detail": {"field": "circle", "type": "nominal"},
        "order": {"field": "step", "type": "quantitative"}
      }
    }
  ]
}
